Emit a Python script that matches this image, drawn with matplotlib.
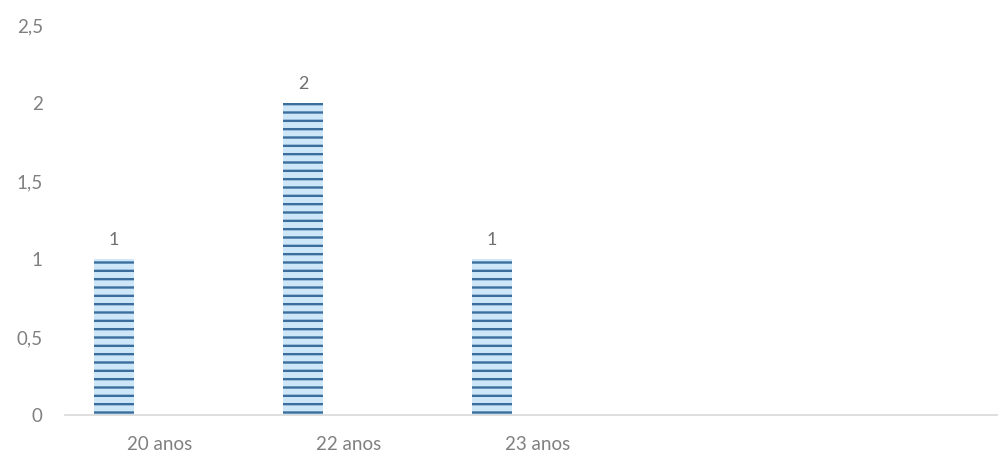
import matplotlib
matplotlib.use("Agg")
import matplotlib.pyplot as plt
import numpy as np

categories = ["20 anos", "22 anos", "23 anos"]
values = [1, 2, 1]
n_slots = 5  # category slots on the axis (the last two are empty)
yticks = [0, 0.5, 1, 1.5, 2, 2.5]
ytick_labels = ["0", "0,5", "1", "1,5", "2", "2,5"]

plt.rcParams["font.family"] = ["Lato", "DejaVu Sans"]
plt.rcParams["hatch.linewidth"] = 1.7

fig = plt.figure(figsize=(9.98, 4.57), dpi=100)
ax = fig.add_axes([65 / 998, 42 / 457, 1 - 65 / 998, (415 - 25) / 457])

x = np.arange(len(categories))
width = 0.21
offset = -0.24
fill = "#cde7f9"
line = "#3b6e9c"
ax.bar(x + offset, values, width=width, color=fill, edgecolor="none", zorder=2)
ax.bar(x + offset, values, width=width, color="none", edgecolor=line,
       linewidth=0, hatch="--", zorder=3)

for xi, v in zip(x, values):
    ax.annotate(f"{v}", (xi + offset, v), xytext=(0, 8), textcoords="offset points",
                ha="center", va="bottom", fontsize=13, color="#707070")

ax.set_xlim(-0.5, n_slots - 0.56)
ax.set_ylim(0, 2.5)
ax.set_xticks(x)
ax.set_xticklabels(categories)
ax.set_yticks(yticks)
ax.set_yticklabels(ytick_labels)
ax.tick_params(axis="both", length=0, labelsize=13.5, colors="#808080")
ax.tick_params(axis="y", pad=16)
ax.tick_params(axis="x", pad=15)
for s in ["top", "right", "left"]:
    ax.spines[s].set_visible(False)
ax.spines["bottom"].set_color("#d9d9d9")
ax.spines["bottom"].set_linewidth(1.2)

fig.savefig("out.png", dpi=100, facecolor="white")
